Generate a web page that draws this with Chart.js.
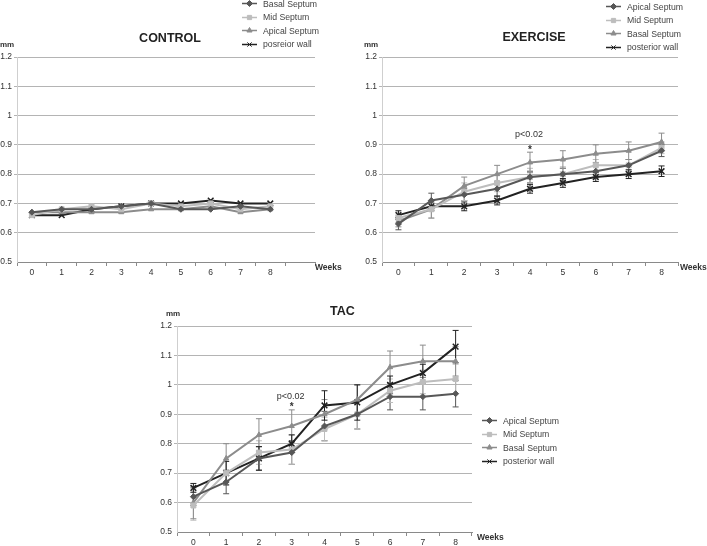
<!DOCTYPE html>
<html lang="en">
<head>
  <meta charset="UTF-8">
  <title>Wall thickness: Control, Exercise, TAC</title>
  <script src="https://cdn.jsdelivr.net/npm/chart.js@4.4.1/dist/chart.umd.min.js"></script>
  <style>
    body { margin: 0; background: #fff; }
    #wrap { position: relative; width: 707px; height: 546px; overflow: hidden; font-family: "Liberation Sans", Arial, sans-serif; }
    #wrap canvas.chart { position: absolute; }
    .legend { position: absolute; font-size: 8.7px; color: #444; }
    .legend .row { height: 13.5px; display: flex; align-items: center; white-space: nowrap; }
    .legend .row canvas { margin-right: 6px; }
  </style>
</head>
<body>
<div id="wrap">
  <canvas id="control" class="chart" width="345" height="290" style="left:0;top:0"></canvas>
  <canvas id="exercise" class="chart" width="345" height="290" style="left:362px;top:0"></canvas>
  <canvas id="tac" class="chart" width="400" height="276" style="left:150px;top:270px"></canvas>
  <div id="leg-control" class="legend" style="left:242px;top:-3px"></div>
  <div id="leg-exercise" class="legend" style="left:606px;top:0"></div>
  <div id="leg-tac" class="legend" style="left:482px;top:414px"></div>
</div>

<script>
  // weeks on the x axis
  const weeks = ['0', '1', '2', '3', '4', '5', '6', '7', '8'];
  const yTicks = [0.5, 0.6, 0.7, 0.8, 0.9, 1.0, 1.1, 1.2];

  // CONTROL (no error bars)
  const controlNames = ['Basal Septum', 'Mid Septum', 'Apical Septum', 'posreior wall'];
  const controlBasal = [0.67, 0.68, 0.68, 0.69, 0.70, 0.68, 0.68, 0.69, 0.68];
  const controlMid = [0.66, 0.68, 0.69, 0.68, 0.70, 0.69, 0.70, 0.68, 0.69];
  const controlApical = [0.67, 0.67, 0.67, 0.67, 0.68, 0.68, 0.69, 0.67, 0.68];
  const controlPost = [0.66, 0.66, 0.68, 0.69, 0.70, 0.70, 0.71, 0.70, 0.70];

  // EXERCISE
  const exerciseNames = ['Apical Septum', 'Mid Septum', 'Basal Septum', 'posterior wall'];
  const exApical = [0.63, 0.71, 0.73, 0.75, 0.79, 0.80, 0.81, 0.83, 0.88];
  const exMid = [0.65, 0.68, 0.74, 0.77, 0.79, 0.80, 0.83, 0.83, 0.89];
  const exBasal = [0.64, 0.68, 0.76, 0.80, 0.84, 0.85, 0.87, 0.88, 0.91];
  const exPost = [0.66, 0.69, 0.69, 0.71, 0.75, 0.77, 0.79, 0.80, 0.81];
  const exApicalErr = [0.02, 0.025, 0.02, 0.025, 0.02, 0.02, 0.02, 0.02, 0.02];
  const exMidErr = [0.02, 0.03, 0.03, 0.03, 0.03, 0.025, 0.02, 0.02, 0.02];
  const exBasalErr = [0.02, 0.03, 0.03, 0.03, 0.035, 0.03, 0.03, 0.03, 0.03];
  const exPostErr = [0.015, 0.015, 0.015, 0.015, 0.015, 0.015, 0.015, 0.015, 0.018];

  // TAC
  const tacNames = ['Apical Septum', 'Mid Septum', 'Basal Septum', 'posterior wall'];
  const tacApical = [0.62, 0.67, 0.75, 0.77, 0.86, 0.90, 0.96, 0.96, 0.97];
  const tacMid = [0.59, 0.70, 0.77, 0.78, 0.85, 0.90, 0.98, 1.01, 1.02];
  const tacBasal = [0.60, 0.75, 0.83, 0.86, 0.90, 0.95, 1.06, 1.08, 1.08];
  const tacPost = [0.65, 0.70, 0.75, 0.80, 0.93, 0.94, 1.00, 1.04, 1.13];
  const tacApicalErr = [0.03, 0.04, 0.04, 0.04, 0.05, 0.05, 0.045, 0.045, 0.045];
  const tacMidErr = [0.05, 0.04, 0.04, 0.05, 0.04, 0.05, 0.04, 0.04, 0.05];
  const tacBasalErr = [0.055, 0.05, 0.055, 0.055, 0.05, 0.05, 0.055, 0.055, 0.05];
  const tacPostErr = [0.015, 0.04, 0.04, 0.03, 0.05, 0.06, 0.03, 0.03, 0.055];

  const FONT = '"Liberation Sans", Arial, sans-serif';
  const DARK = '#575757', MID = '#8c8c8c', LIGHT = '#bdbdbd', BLACK = '#222';

  function series(label, data, color, style, err) {
    return {
      label, data, err,
      borderColor: color, backgroundColor: color,
      borderWidth: 2, pointStyle: style,
      pointRadius: style === 'crossRot' ? 4 : (style === 'rect' ? 3.5 : 3),
      pointBorderWidth: style === 'crossRot' ? 1.5 : 1,
      tension: 0
    };
  }

  // error bars, drawn under the lines
  const errorBars = {
    id: 'errorBars',
    beforeDatasetsDraw(chart) {
      const ctx = chart.ctx, y = chart.scales.y;
      chart.data.datasets.forEach((ds, i) => {
        if (!ds.err) return;
        const meta = chart.getDatasetMeta(i);
        ctx.save();
        ctx.strokeStyle = ds.borderColor;
        ctx.lineWidth = 1;
        meta.data.forEach((pt, j) => {
          const top = y.getPixelForValue(ds.data[j] + ds.err[j]);
          const bot = y.getPixelForValue(ds.data[j] - ds.err[j]);
          ctx.beginPath();
          ctx.moveTo(pt.x, top); ctx.lineTo(pt.x, bot);
          ctx.moveTo(pt.x - 3, top); ctx.lineTo(pt.x + 3, top);
          ctx.moveTo(pt.x - 3, bot); ctx.lineTo(pt.x + 3, bot);
          ctx.stroke();
        });
        ctx.restore();
      });
    }
  };

  // title, axis names and significance marks
  const labels = {
    id: 'labels',
    afterDraw(chart, args, o) {
      const { ctx, chartArea: a, scales } = chart;
      ctx.save();
      ctx.fillStyle = '#222';
      ctx.textBaseline = 'middle';
      ctx.textAlign = 'center';
      ctx.font = 'bold 12.5px ' + FONT;
      ctx.fillText(o.title, (a.left + a.right) / 2 + o.titleDx, a.top + o.titleDy);
      ctx.font = 'bold 8px ' + FONT;
      ctx.fillStyle = '#333';
      ctx.fillText('mm', a.left + o.mmDx, a.top - 12);
      ctx.textAlign = 'left';
      ctx.font = 'bold 8.5px ' + FONT;
      ctx.fillText('Weeks', a.right + o.weeksDx, a.bottom + 6);
      if (o.sig) {
        const x = scales.x.getPixelForValue(o.sig.week);
        ctx.textAlign = 'center';
        ctx.font = '9px ' + FONT;
        ctx.fillText('p<0.02', x - 1, scales.y.getPixelForValue(o.sig.textAt));
        ctx.font = 'bold 10px ' + FONT;
        ctx.fillText('*', x, scales.y.getPixelForValue(o.sig.starAt) + 2);
      }
      ctx.restore();
    }
  };

  function makeChart(id, cats, datasets, yWidth, xHeight, padding, lab) {
    return new Chart(document.getElementById(id), {
      type: 'line',
      data: { labels: cats, datasets },
      plugins: [errorBars, labels],
      options: {
        responsive: false,
        animation: false,
        layout: { padding },
        plugins: {
          legend: { display: false },
          tooltip: { enabled: false },
          labels: lab
        },
        scales: {
          x: {
            offset: true,
            afterFit: s => { s.height = xHeight; },
            grid: { offset: true, drawOnChartArea: false, tickLength: 4, color: '#8a8a8a' },
            border: { color: '#8a8a8a' },
            ticks: { color: '#333', font: { family: FONT, size: 8.5 }, padding: 2, maxRotation: 0 }
          },
          y: {
            min: 0.5, max: 1.2,
            afterFit: s => { s.width = yWidth; },
            afterBuildTicks: s => { s.ticks = yTicks.map(v => ({ value: v })); },
            grid: { color: ctx => ctx.index === 0 ? 'rgba(0,0,0,0)' : '#b4b4b4', tickLength: 3 },
            border: { color: '#cfcfcf' },
            ticks: {
              color: '#333', font: { family: FONT, size: 8.5 }, padding: 2,
              callback: v => String(Math.round(v * 10) / 10)
            }
          }
        }
      }
    });
  }

  function buildLegend(id, datasets) {
    const el = document.getElementById(id);
    datasets.forEach(ds => {
      const row = document.createElement('div');
      row.className = 'row';
      const c = document.createElement('canvas');
      c.width = 15; c.height = 9;
      const g = c.getContext('2d');
      g.strokeStyle = ds.borderColor; g.fillStyle = ds.borderColor;
      g.lineWidth = 1.5;
      g.beginPath(); g.moveTo(0, 4.5); g.lineTo(15, 4.5); g.stroke();
      g.lineWidth = 1;
      Chart.helpers.drawPoint(g, { pointStyle: ds.pointStyle, radius: 3, borderWidth: 1, rotation: 0 }, 7.5, 4.5);
      row.appendChild(c);
      row.appendChild(document.createTextNode(ds.label));
      el.appendChild(row);
    });
  }

  const controlSets = [
    series(controlNames[0], controlBasal, DARK, 'rectRot'),
    series(controlNames[1], controlMid, LIGHT, 'rect'),
    series(controlNames[2], controlApical, MID, 'triangle'),
    series(controlNames[3], controlPost, BLACK, 'crossRot')
  ];
  const exerciseSets = [
    series(exerciseNames[0], exApical, DARK, 'rectRot', exApicalErr),
    series(exerciseNames[1], exMid, LIGHT, 'rect', exMidErr),
    series(exerciseNames[2], exBasal, MID, 'triangle', exBasalErr),
    series(exerciseNames[3], exPost, BLACK, 'crossRot', exPostErr)
  ];
  const tacSets = [
    series(tacNames[0], tacApical, DARK, 'rectRot', tacApicalErr),
    series(tacNames[1], tacMid, LIGHT, 'rect', tacMidErr),
    series(tacNames[2], tacBasal, MID, 'triangle', tacBasalErr),
    series(tacNames[3], tacPost, BLACK, 'crossRot', tacPostErr)
  ];

  // control axis has one spare empty slot after week 8
  makeChart('control', weeks.concat(['']), controlSets, 17, 28,
    { top: 57, left: 0, right: 30, bottom: 0 },
    { title: 'CONTROL', titleDx: 4, titleDy: -18, mmDx: -10, weeksDx: 0 });
  makeChart('exercise', weeks, exerciseSets, 20, 28,
    { top: 57, left: 0, right: 29, bottom: 0 },
    { title: 'EXERCISE', titleDx: 4, titleDy: -19, mmDx: -11, weeksDx: 2,
      sig: { week: 4, textAt: 0.935, starAt: 0.89 } });
  makeChart('tac', weeks, tacSets, 27, 14,
    { top: 56, left: 0, right: 78, bottom: 0 },
    { title: 'TAC', titleDx: 18, titleDy: -14, mmDx: -4, weeksDx: 5,
      sig: { week: 3, textAt: 0.96, starAt: 0.93 } });

  buildLegend('leg-control', controlSets);
  buildLegend('leg-exercise', exerciseSets);
  buildLegend('leg-tac', tacSets);
</script>
</body>
</html>
